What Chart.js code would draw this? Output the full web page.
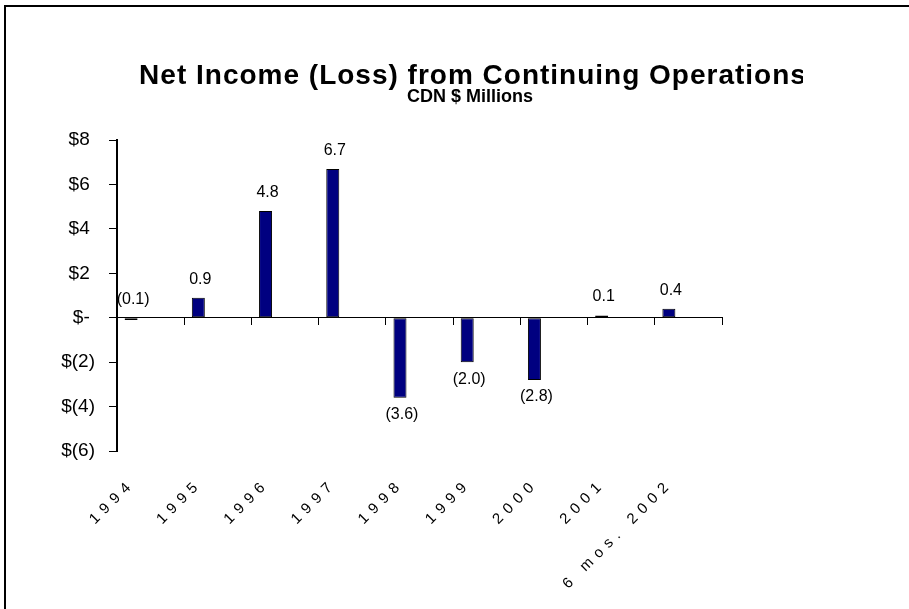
<!DOCTYPE html>
<html>
<head>
<meta charset="utf-8">
<script src="https://cdn.jsdelivr.net/npm/chart.js@4.4.1/dist/chart.umd.min.js"></script>
<style>
  html, body { margin: 0; padding: 0; background: #fff; overflow: hidden; }
  #wrap { position: relative; width: 909px; height: 609px; overflow: hidden; }
  #frame { position: absolute; left: 4px; top: 5px; width: 920px; height: 620px; border-left: 2px solid #000; border-top: 2px solid #000; }
  canvas { position: absolute; left: 0; top: 0; }
</style>
</head>
<body>
<div id="wrap">
  <div id="frame"></div>
  <canvas id="chart" width="909" height="609"></canvas>
</div>
<script>
const categories = ["1994", "1995", "1996", "1997", "1998", "1999", "2000", "2001", "6 mos. 2002"]
const netIncome = [-0.1, 0.9, 4.8, 6.7, -3.6, -2.0, -2.8, 0.1, 0.4]
const yTicks = [-6, -4, -2, 0, 2, 4, 6, 8]
const titleText = "Net Income (Loss) from Continuing Operations"
const subtitleText = "CDN $ Millions"

const family = "'Liberation Sans', Arial, sans-serif"

const money = (v) => v > 0 ? "$" + v + " " : v === 0 ? "$- " : "$(" + (-v) + ")"
const amount = (v) => v < 0 ? "(" + (-v).toFixed(1) + ")" : v.toFixed(1)

// the old chart spreads the category labels out, canvas letterSpacing gets close.
// only the bottom axis labels are drawn before the datasets, everything else has z 1
const xLabelSpacing = {
  id: "xLabelSpacing",
  beforeDraw(chart) { chart.ctx.letterSpacing = "6px" },
  beforeDatasetsDraw(chart) { chart.ctx.letterSpacing = "0px" }
}

const valueLabels = {
  id: "valueLabels",
  afterDatasetsDraw(chart) {
    const ctx = chart.ctx
    const base = chart.scales.y.getPixelForValue(0)
    ctx.save()
    ctx.letterSpacing = "0px"
    ctx.font = "16px " + family
    ctx.fillStyle = "#000"
    ctx.textAlign = "center"
    chart.getDatasetMeta(0).data.forEach((bar, i) => {
      const v = netIncome[i]
      if (v < 0 && bar.y - base > 20) {
        ctx.textBaseline = "top"
        ctx.fillText(amount(v), bar.x + 2, bar.y + 9)
      } else {
        ctx.textBaseline = "alphabetic"
        ctx.fillText(amount(v), bar.x + 2, Math.min(bar.y, base) - 14)
      }
    })
    ctx.restore()
  }
}

const titleBlock = {
  id: "titleBlock",
  afterDraw(chart) {
    const ctx = chart.ctx
    ctx.save()
    ctx.beginPath()
    ctx.rect(0, 0, 803, 609)
    ctx.clip()
    ctx.fillStyle = "#000"
    ctx.textAlign = "center"
    ctx.textBaseline = "alphabetic"
    ctx.font = "bold 28px " + family
    ctx.letterSpacing = "1px"
    ctx.fillText(titleText, 473, 84)
    ctx.letterSpacing = "0px"
    ctx.font = "bold 18px " + family
    ctx.fillText(subtitleText, 470, 102)
    ctx.restore()
  }
}

new Chart(document.getElementById("chart"), {
  type: "bar",
  data: {
    labels: categories,
    datasets: [
      {
        label: "Net Income",
        data: netIncome,
        backgroundColor: "#000080",
        borderColor: "#000",
        borderWidth: 1,
        borderSkipped: false
      },
      // empty series so the bar sits in the first slot of its category, as in the original
      { label: "", data: [] },
      { label: "", data: [] },
      { label: "", data: [] }
    ]
  },
  options: {
    responsive: false,
    animation: false,
    categoryPercentage: 0.774,
    barPercentage: 1,
    layout: { padding: { left: 0, top: 140, right: 187, bottom: 0 } },
    plugins: {
      legend: { display: false },
      tooltip: { enabled: false },
      title: { display: false }
    },
    scales: {
      x: {
        type: "category",
        offset: true,
        afterFit: (s) => { s.height = 158 },
        grid: { display: false, drawTicks: false },
        border: { display: false },
        ticks: {
          color: "#000",
          autoSkip: false,
          minRotation: 45,
          maxRotation: 45,
          padding: 24,
          labelOffset: -18,
          font: { family, size: 15 }
        }
      },
      x0: {
        type: "category",
        axis: "x",
        position: { y: 0 },
        offset: true,
        afterFit: (s) => { s.height = 0 },
        grid: { drawOnChartArea: false, drawTicks: true, tickLength: 7, color: "#000", offset: true, z: 1 },
        border: { display: true, color: "#000", width: 1, z: 1 },
        ticks: { display: false, z: 1 }
      },
      y: {
        min: -6,
        max: 8,
        afterFit: (s) => { s.width = 117 },
        afterBuildTicks: (s) => { s.ticks = yTicks.map((value) => ({ value })) },
        grid: { drawOnChartArea: false, drawTicks: true, tickLength: 8, color: "#000", lineWidth: 1, z: 1 },
        border: { display: true, color: "#000", width: 2, z: 1 },
        ticks: { color: "#000", padding: 14, font: { family, size: 19 }, callback: money, z: 1 }
      }
    }
  },
  plugins: [xLabelSpacing, valueLabels, titleBlock]
})
</script>
</body>
</html>
